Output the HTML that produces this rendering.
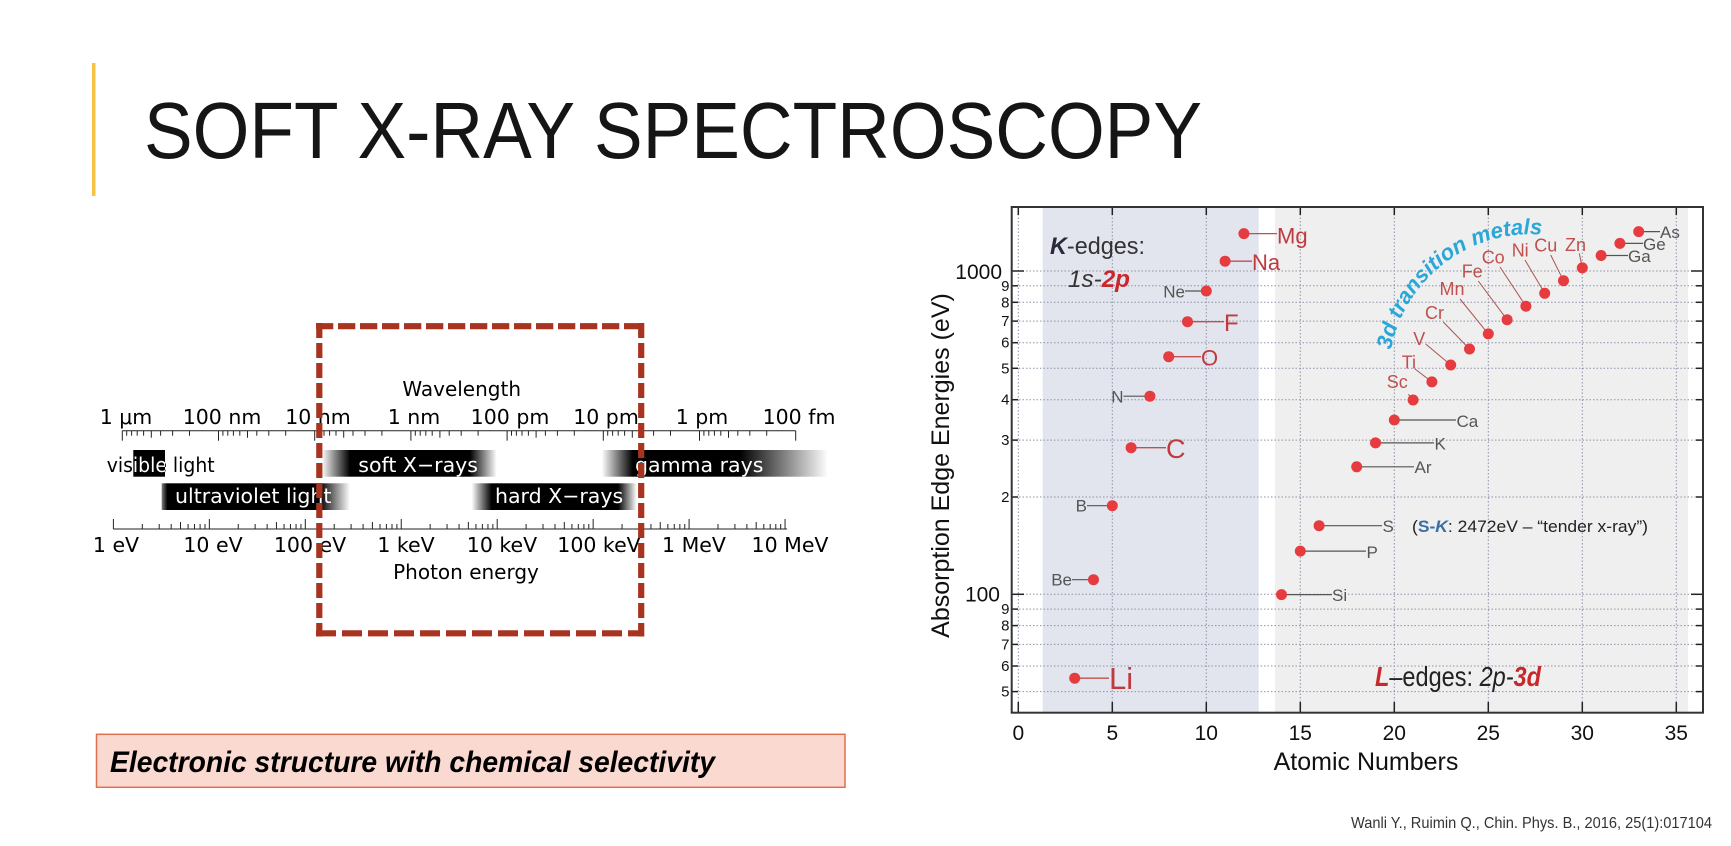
<!DOCTYPE html>
<html><head><meta charset="utf-8"><style>
html,body{margin:0;padding:0;background:#fff;overflow:hidden}
svg{display:block}
.dv{font-family:"DejaVu Sans","Liberation Sans",sans-serif}
.ls{font-family:"Liberation Sans",Arial,sans-serif}
</style></head><body>
<svg width="1731" height="846" viewBox="0 0 1731 846" xmlns="http://www.w3.org/2000/svg">
<defs>
<linearGradient id="gUV" x1="0" x2="1" y1="0" y2="0"><stop offset="0" stop-color="#000" stop-opacity=".5"/><stop offset=".03" stop-color="#000"/><stop offset=".84" stop-color="#000"/><stop offset="1" stop-color="#000" stop-opacity="0"/></linearGradient>
<linearGradient id="gSX" x1="0" x2="1" y1="0" y2="0"><stop offset="0" stop-color="#000" stop-opacity="0"/><stop offset=".162" stop-color="#000"/><stop offset=".847" stop-color="#000"/><stop offset="1" stop-color="#000" stop-opacity="0"/></linearGradient>
<linearGradient id="gHX" x1="0" x2="1" y1="0" y2="0"><stop offset="0" stop-color="#000" stop-opacity="0"/><stop offset=".121" stop-color="#000"/><stop offset=".887" stop-color="#000"/><stop offset="1" stop-color="#000" stop-opacity="0"/></linearGradient>
<linearGradient id="gGR" x1="0" x2="1" y1="0" y2="0"><stop offset="0" stop-color="#000" stop-opacity="0"/><stop offset=".138" stop-color="#000"/><stop offset=".61" stop-color="#000"/><stop offset="1" stop-color="#000" stop-opacity="0"/></linearGradient>
<clipPath id="cv"><rect x="133.3" y="450" width="31.7" height="26.7"/></clipPath>
<g id="wdec" stroke="#222" stroke-width="1">
<line x1="0" y1="0" x2="0" y2="10"/><line x1="4.4" y1="0" x2="4.4" y2="5"/><line x1="9.3" y1="0" x2="9.3" y2="5"/><line x1="14.9" y1="0" x2="14.9" y2="5"/><line x1="21.3" y1="0" x2="21.3" y2="5"/><line x1="29" y1="0" x2="29" y2="7"/><line x1="38.3" y1="0" x2="38.3" y2="5"/><line x1="50.3" y1="0" x2="50.3" y2="5"/><line x1="67.2" y1="0" x2="67.2" y2="5"/>
</g>
<g id="edec" stroke="#222" stroke-width="1">
<line x1="0" y1="0" x2="0" y2="-10"/><line x1="28.9" y1="0" x2="28.9" y2="-5"/><line x1="45.8" y1="0" x2="45.8" y2="-5"/><line x1="57.8" y1="0" x2="57.8" y2="-5"/><line x1="67.1" y1="0" x2="67.1" y2="-7"/><line x1="74.7" y1="0" x2="74.7" y2="-5"/><line x1="81.1" y1="0" x2="81.1" y2="-5"/><line x1="86.7" y1="0" x2="86.7" y2="-5"/><line x1="91.6" y1="0" x2="91.6" y2="-5"/>
</g>
<path id="arc3d" d="M 1391 350 A 142 142 0 0 1 1545 235" fill="none"/>
</defs>

<!-- Title -->
<rect x="92" y="63" width="3.5" height="133" fill="#f6c343"/>
<text class="ls" x="144" y="158" font-size="80" fill="#151515" textLength="1058" lengthAdjust="spacingAndGlyphs">SOFT X-RAY SPECTROSCOPY</text>

<!-- Spectrum diagram -->
<g class="dv" font-size="20.5" fill="#000">
<text x="461.7" y="396" text-anchor="middle" font-size="20">Wavelength</text>
<text x="126" y="424" text-anchor="middle">1 μm</text>
<text x="222" y="424" text-anchor="middle">100 nm</text>
<text x="318" y="424" text-anchor="middle">10 nm</text>
<text x="414" y="424" text-anchor="middle">1 nm</text>
<text x="510" y="424" text-anchor="middle">100 pm</text>
<text x="606" y="424" text-anchor="middle">10 pm</text>
<text x="702" y="424" text-anchor="middle">1 pm</text>
<text x="799" y="424" text-anchor="middle">100 fm</text>
</g>
<line x1="122.3" y1="430.7" x2="795.7" y2="430.7" stroke="#222" stroke-width="1"/>
<use href="#wdec" x="122.3" y="430.7"/><use href="#wdec" x="218.5" y="430.7"/><use href="#wdec" x="314.7" y="430.7"/><use href="#wdec" x="410.9" y="430.7"/><use href="#wdec" x="507.1" y="430.7"/><use href="#wdec" x="603.3" y="430.7"/><use href="#wdec" x="699.5" y="430.7"/>
<line x1="795.7" y1="430.7" x2="795.7" y2="440.7" stroke="#222"/>

<!-- bars -->
<rect x="133.3" y="450" width="31.7" height="26.7" fill="#000"/>
<rect x="161.7" y="483.3" width="188.3" height="26.7" fill="url(#gUV)"/>
<rect x="321.7" y="450" width="175" height="26.7" fill="url(#gSX)"/>
<rect x="471.7" y="483.3" width="165" height="26.7" fill="url(#gHX)"/>
<rect x="601.7" y="450" width="226.3" height="26.7" fill="url(#gGR)"/>
<g class="dv" font-size="20.5">
<text x="106.7" y="472" fill="#000" textLength="108" lengthAdjust="spacingAndGlyphs">visible light</text>
<text x="106.7" y="472" fill="#fff" textLength="108" lengthAdjust="spacingAndGlyphs" clip-path="url(#cv)">visible light</text>
<text x="175" y="503" fill="#fff">ultraviolet light</text>
<text x="358.3" y="472" fill="#fff">soft X−rays</text>
<text x="495" y="503" fill="#fff">hard X−rays</text>
<text x="635" y="472" fill="#fff">gamma rays</text>
</g>

<line x1="113.4" y1="529" x2="787.1" y2="529" stroke="#222" stroke-width="1"/>
<use href="#edec" x="113.4" y="529"/><use href="#edec" x="209.35" y="529"/><use href="#edec" x="305.3" y="529"/><use href="#edec" x="401.25" y="529"/><use href="#edec" x="497.2" y="529"/><use href="#edec" x="593.15" y="529"/><use href="#edec" x="689.1" y="529"/>
<line x1="785.05" y1="529" x2="785.05" y2="519" stroke="#222"/>
<g class="dv" font-size="20.5" fill="#000" text-anchor="middle">
<text x="116" y="552">1 eV</text>
<text x="213" y="552">10 eV</text>
<text x="310" y="552">100 eV</text>
<text x="406" y="552">1 keV</text>
<text x="502" y="552">10 keV</text>
<text x="599" y="552">100 keV</text>
<text x="694" y="552">1 MeV</text>
<text x="790" y="552">10 MeV</text>
<text x="466" y="579" font-size="20">Photon energy</text>
</g>

<!-- dashed box -->
<g stroke="#a83420" stroke-width="6.2" fill="none">
<line x1="316" y1="326.2" x2="644" y2="326.2" stroke-dasharray="17.3 4.7"/>
<line x1="316" y1="633.3" x2="644" y2="633.3" stroke-dasharray="20 6"/>
<line x1="319.3" y1="323" x2="319.3" y2="636.5" stroke-dasharray="15 5"/>
<line x1="641.2" y1="323" x2="641.2" y2="636.5" stroke-dasharray="15 5"/>
</g>

<!-- pink box -->
<rect x="96.5" y="734.3" width="748.5" height="53" fill="#f9d9d0" stroke="#e0704f" stroke-width="1.5"/>
<text class="ls" x="110" y="772" font-size="30" font-weight="bold" font-style="italic" fill="#000" textLength="605" lengthAdjust="spacingAndGlyphs">Electronic structure with chemical selectivity</text>

<!-- citation -->
<text class="ls" x="1351" y="828" font-size="16" fill="#333" textLength="361" lengthAdjust="spacingAndGlyphs">Wanli Y., Ruimin Q., Chin. Phys. B., 2016, 25(1):017104</text>

<!-- ===== Chart ===== -->
<rect x="1042.7" y="207" width="216" height="505.7" fill="#e2e5ee"/>
<rect x="1275" y="207" width="413" height="505.7" fill="#efeff0"/>

<g stroke="#8d93a8" stroke-width="1" stroke-dasharray="1.5 2" fill="none">
<line x1="1018.3" y1="207" x2="1018.3" y2="712.7"/><line x1="1112.3" y1="207" x2="1112.3" y2="712.7"/><line x1="1206.3" y1="207" x2="1206.3" y2="712.7"/><line x1="1300.3" y1="207" x2="1300.3" y2="712.7"/><line x1="1394.3" y1="207" x2="1394.3" y2="712.7"/><line x1="1488.3" y1="207" x2="1488.3" y2="712.7"/><line x1="1582.3" y1="207" x2="1582.3" y2="712.7"/><line x1="1676.3" y1="207" x2="1676.3" y2="712.7"/>
<line x1="1012" y1="691.6" x2="1703" y2="691.6"/><line x1="1012" y1="666" x2="1703" y2="666"/><line x1="1012" y1="644.4" x2="1703" y2="644.4"/><line x1="1012" y1="625.6" x2="1703" y2="625.6"/><line x1="1012" y1="609.1" x2="1703" y2="609.1"/><line x1="1012" y1="594.3" x2="1703" y2="594.3"/><line x1="1012" y1="497" x2="1703" y2="497"/><line x1="1012" y1="440.1" x2="1703" y2="440.1"/><line x1="1012" y1="399.7" x2="1703" y2="399.7"/><line x1="1012" y1="368.3" x2="1703" y2="368.3"/><line x1="1012" y1="342.7" x2="1703" y2="342.7"/><line x1="1012" y1="321.1" x2="1703" y2="321.1"/><line x1="1012" y1="302.3" x2="1703" y2="302.3"/><line x1="1012" y1="285.8" x2="1703" y2="285.8"/><line x1="1012" y1="271" x2="1703" y2="271"/>
</g>

<!-- ticks -->
<g stroke="#222" stroke-width="1.5">
<line x1="1012" y1="594.3" x2="1024" y2="594.3"/><line x1="1012" y1="271" x2="1024" y2="271"/>
<line x1="1012" y1="691.6" x2="1018" y2="691.6"/><line x1="1012" y1="666" x2="1018" y2="666"/><line x1="1012" y1="644.4" x2="1018" y2="644.4"/><line x1="1012" y1="625.6" x2="1018" y2="625.6"/><line x1="1012" y1="609.1" x2="1018" y2="609.1"/><line x1="1012" y1="497" x2="1018" y2="497"/><line x1="1012" y1="440.1" x2="1018" y2="440.1"/><line x1="1012" y1="399.7" x2="1018" y2="399.7"/><line x1="1012" y1="368.3" x2="1018" y2="368.3"/><line x1="1012" y1="342.7" x2="1018" y2="342.7"/><line x1="1012" y1="321.1" x2="1018" y2="321.1"/><line x1="1012" y1="302.3" x2="1018" y2="302.3"/><line x1="1012" y1="285.8" x2="1018" y2="285.8"/>
<line x1="1703" y1="594.3" x2="1691" y2="594.3"/><line x1="1703" y1="271" x2="1691" y2="271"/>
<line x1="1703" y1="691.6" x2="1696" y2="691.6"/><line x1="1703" y1="666" x2="1696" y2="666"/><line x1="1703" y1="644.4" x2="1696" y2="644.4"/><line x1="1703" y1="625.6" x2="1696" y2="625.6"/><line x1="1703" y1="609.1" x2="1696" y2="609.1"/><line x1="1703" y1="497" x2="1696" y2="497"/><line x1="1703" y1="440.1" x2="1696" y2="440.1"/><line x1="1703" y1="399.7" x2="1696" y2="399.7"/><line x1="1703" y1="368.3" x2="1696" y2="368.3"/><line x1="1703" y1="342.7" x2="1696" y2="342.7"/><line x1="1703" y1="321.1" x2="1696" y2="321.1"/><line x1="1703" y1="302.3" x2="1696" y2="302.3"/><line x1="1703" y1="285.8" x2="1696" y2="285.8"/>
<line x1="1018.3" y1="712.7" x2="1018.3" y2="702"/><line x1="1112.3" y1="712.7" x2="1112.3" y2="702"/><line x1="1206.3" y1="712.7" x2="1206.3" y2="702"/><line x1="1300.3" y1="712.7" x2="1300.3" y2="702"/><line x1="1394.3" y1="712.7" x2="1394.3" y2="702"/><line x1="1488.3" y1="712.7" x2="1488.3" y2="702"/><line x1="1582.3" y1="712.7" x2="1582.3" y2="702"/><line x1="1676.3" y1="712.7" x2="1676.3" y2="702"/>
<line x1="1018.3" y1="207" x2="1018.3" y2="215"/><line x1="1112.3" y1="207" x2="1112.3" y2="215"/><line x1="1206.3" y1="207" x2="1206.3" y2="215"/><line x1="1300.3" y1="207" x2="1300.3" y2="215"/><line x1="1394.3" y1="207" x2="1394.3" y2="215"/><line x1="1488.3" y1="207" x2="1488.3" y2="215"/><line x1="1582.3" y1="207" x2="1582.3" y2="215"/><line x1="1676.3" y1="207" x2="1676.3" y2="215"/>
</g>
<rect x="1011.7" y="207" width="691.3" height="505.7" fill="none" stroke="#333" stroke-width="2"/>

<!-- axis labels -->
<g class="ls" fill="#111">
<text x="1002" y="279" font-size="21" text-anchor="end">1000</text>
<text x="1000" y="601.7" font-size="21" text-anchor="end">100</text>
<g font-size="15" text-anchor="end">
<text x="1009.5" y="290.8">9</text><text x="1009.5" y="307.3">8</text><text x="1009.5" y="326.1">7</text><text x="1009.5" y="347.7">6</text><text x="1009.5" y="373.3">5</text><text x="1009.5" y="404.7">4</text><text x="1009.5" y="445.1">3</text><text x="1009.5" y="502">2</text>
<text x="1009.5" y="614.1">9</text><text x="1009.5" y="630.6">8</text><text x="1009.5" y="649.4">7</text><text x="1009.5" y="671">6</text><text x="1009.5" y="696.6">5</text>
</g>
<g font-size="21" text-anchor="middle">
<text x="1018.3" y="740">0</text><text x="1112.3" y="740">5</text><text x="1206.3" y="740">10</text><text x="1300.3" y="740">15</text><text x="1394.3" y="740">20</text><text x="1488.3" y="740">25</text><text x="1582.3" y="740">30</text><text x="1676.3" y="740">35</text>
</g>
<text x="1366" y="770" font-size="25" text-anchor="middle">Atomic Numbers</text>
<text transform="translate(949,465.5) rotate(-90)" font-size="25" text-anchor="middle">Absorption Edge Energies (eV)</text>
</g>

<!-- leader lines -->
<g stroke="#c0504d" stroke-width="1.3">
<line x1="1074.7" y1="678.2" x2="1109" y2="678.2"/>
<line x1="1131.1" y1="447.7" x2="1166" y2="447.7"/>
<line x1="1168.7" y1="356.7" x2="1201" y2="356.7"/>
<line x1="1187.5" y1="321.7" x2="1224" y2="321.7"/>
<line x1="1225.1" y1="261.2" x2="1252" y2="261.2"/>
<line x1="1243.9" y1="233.6" x2="1277" y2="233.6"/>
</g>
<g stroke="#555" stroke-width="1.2">
<line x1="1072" y1="579.7" x2="1093.5" y2="579.7"/>
<line x1="1087" y1="505.7" x2="1112.3" y2="505.7"/>
<line x1="1123.5" y1="396.2" x2="1149.9" y2="396.2"/>
<line x1="1185" y1="291" x2="1206.3" y2="291"/>
<line x1="1281.5" y1="594.6" x2="1332" y2="594.6"/>
<line x1="1300.3" y1="551.1" x2="1366" y2="551.1"/>
<line x1="1319.1" y1="525.7" x2="1382" y2="525.7"/>
<line x1="1356.7" y1="466.8" x2="1414" y2="466.8"/>
<line x1="1375.5" y1="442.9" x2="1434" y2="442.9"/>
<line x1="1394.3" y1="420" x2="1456" y2="420"/>
<line x1="1601.1" y1="255.5" x2="1628" y2="255.5"/>
<line x1="1619.9" y1="243.4" x2="1643" y2="243.4"/>
<line x1="1638.7" y1="231.6" x2="1660" y2="231.6"/>
</g>
<g stroke="#a9544f" stroke-width="1">
<line x1="1408.3" y1="394.3" x2="1413.1" y2="400"/>
<line x1="1415" y1="369" x2="1431.9" y2="381.9"/>
<line x1="1425.7" y1="344" x2="1450.7" y2="365"/>
<line x1="1443.3" y1="322" x2="1469.5" y2="349"/>
<line x1="1460" y1="299" x2="1488.3" y2="333.9"/>
<line x1="1478.3" y1="281" x2="1507.1" y2="319.7"/>
<line x1="1500" y1="267" x2="1525.9" y2="306.2"/>
<line x1="1525" y1="260" x2="1544.7" y2="293.3"/>
<line x1="1550.7" y1="255" x2="1563.5" y2="280.7"/>
<line x1="1579.3" y1="253.3" x2="1582.3" y2="267.9"/>
</g>

<!-- dots -->
<g fill="#e63b3f">
<circle cx="1074.7" cy="678.2" r="5.5"/><circle cx="1093.5" cy="579.7" r="5.5"/><circle cx="1112.3" cy="505.7" r="5.5"/><circle cx="1131.1" cy="447.7" r="5.5"/><circle cx="1149.9" cy="396.2" r="5.5"/><circle cx="1168.7" cy="356.7" r="5.5"/><circle cx="1187.5" cy="321.7" r="5.5"/><circle cx="1206.3" cy="291" r="5.5"/><circle cx="1225.1" cy="261.2" r="5.5"/><circle cx="1243.9" cy="233.6" r="5.5"/>
<circle cx="1281.5" cy="594.6" r="5.5"/><circle cx="1300.3" cy="551.1" r="5.5"/><circle cx="1319.1" cy="525.7" r="5.5"/><circle cx="1356.7" cy="466.8" r="5.5"/><circle cx="1375.5" cy="442.9" r="5.5"/><circle cx="1394.3" cy="420" r="5.5"/>
<circle cx="1413.1" cy="400" r="5.5"/><circle cx="1431.9" cy="381.9" r="5.5"/><circle cx="1450.7" cy="365" r="5.5"/><circle cx="1469.5" cy="349" r="5.5"/><circle cx="1488.3" cy="333.9" r="5.5"/><circle cx="1507.1" cy="319.7" r="5.5"/><circle cx="1525.9" cy="306.2" r="5.5"/><circle cx="1544.7" cy="293.3" r="5.5"/><circle cx="1563.5" cy="280.7" r="5.5"/><circle cx="1582.3" cy="267.9" r="5.5"/>
<circle cx="1601.1" cy="255.5" r="5.5"/><circle cx="1619.9" cy="243.4" r="5.5"/><circle cx="1638.7" cy="231.6" r="5.5"/>
</g>

<!-- element labels -->
<g class="ls" fill="#c0393d">
<text x="1109" y="689" font-size="31">Li</text>
<text x="1166" y="458" font-size="27">C</text>
<text x="1201" y="365.5" font-size="22">O</text>
<text x="1224" y="331" font-size="24">F</text>
<text x="1252" y="270" font-size="22">Na</text>
<text x="1277" y="243.3" font-size="22">Mg</text>
</g>
<g class="ls" fill="#c0504d" font-size="18">
<text x="1386.7" y="388">Sc</text>
<text x="1401.7" y="368.5">Ti</text>
<text x="1413.3" y="345">V</text>
<text x="1425" y="319">Cr</text>
<text x="1439.5" y="295">Mn</text>
<text x="1461.7" y="277.7">Fe</text>
<text x="1481.7" y="263.3">Co</text>
<text x="1511.7" y="256.7">Ni</text>
<text x="1534.3" y="251.7">Cu</text>
<text x="1565" y="251">Zn</text>
</g>
<g class="ls" fill="#555" font-size="17">
<text x="1072" y="585.5" text-anchor="end">Be</text>
<text x="1087" y="511.7" text-anchor="end">B</text>
<text x="1123.5" y="402.5" text-anchor="end">N</text>
<text x="1185" y="297.5" text-anchor="end">Ne</text>
<text x="1332" y="601">Si</text>
<text x="1366.5" y="558">P</text>
<text x="1382.5" y="532">S</text>
<text x="1414.5" y="473">Ar</text>
<text x="1434.5" y="449.5">K</text>
<text x="1456.5" y="427">Ca</text>
<text x="1628" y="262">Ga</text>
<text x="1643" y="250">Ge</text>
<text x="1660" y="238">As</text>
</g>

<!-- annotations -->
<text class="ls" x="1050" y="254" font-size="24" fill="#333" textLength="95" lengthAdjust="spacingAndGlyphs"><tspan font-weight="bold" font-style="italic" fill="#2a2a3a">K</tspan>-edges:</text>
<text class="ls" x="1068" y="287" font-size="24" font-style="italic" fill="#333" textLength="62" lengthAdjust="spacingAndGlyphs">1s-<tspan font-weight="bold" fill="#c8282c">2p</tspan></text>
<text class="ls" x="1412" y="532" font-size="17" fill="#222" textLength="236" lengthAdjust="spacingAndGlyphs">(<tspan fill="#3a6ea5" font-weight="bold">S-</tspan><tspan fill="#3a6ea5" font-weight="bold" font-style="italic">K</tspan>: 2472eV – “tender x-ray”)</text>
<text class="ls" x="1375" y="686" font-size="28" fill="#222" textLength="166" lengthAdjust="spacingAndGlyphs"><tspan font-weight="bold" font-style="italic" fill="#c8282c">L</tspan>–edges: <tspan font-style="italic">2p-</tspan><tspan font-weight="bold" font-style="italic" fill="#c8282c">3d</tspan></text>
<text class="ls" font-size="22" font-weight="bold" font-style="italic" fill="#2ba6d9"><textPath href="#arc3d" textLength="208" lengthAdjust="spacingAndGlyphs">3d transition metals</textPath></text>
</svg>
</body></html>
